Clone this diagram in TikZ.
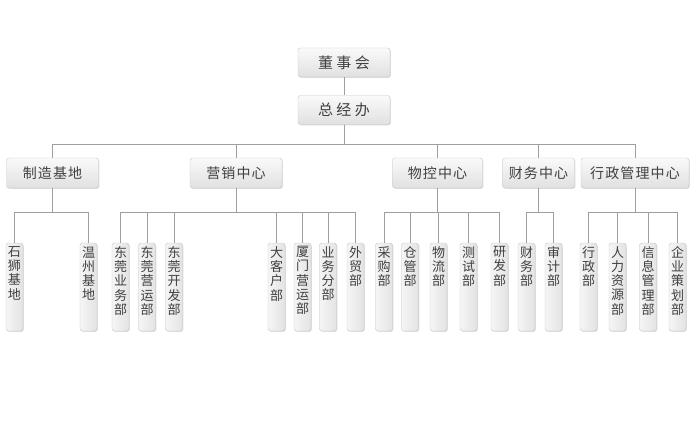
\documentclass[tikz,border=0pt]{standalone}
\usepackage{fontspec}
\newfontfamily\cjk{Noto Sans CJK SC}
\newfontfamily\cjkwide[LetterSpace=22]{Noto Sans CJK SC}
\newfontfamily\cjkmid[LetterSpace=8]{Noto Sans CJK SC}
\usetikzlibrary{shadows}
\newcommand{\vtxt}[1]{\parbox[c][85pt][t]{14pt}{\centering\fontsize{13}{14.2}\selectfont\vspace*{2pt}#1}}

\tikzset{
  box/.style={draw=gray!45, rounded corners=2.5pt, top color=gray!4, bottom color=gray!24,
              drop shadow={shadow xshift=0.8pt, shadow yshift=-0.8pt, fill=gray!45, opacity=0.6},
              text=black!75, inner sep=0pt},
  topbox/.style={box, minimum width=92, minimum height=29, font=\cjkwide\fontsize{15}{15}\selectfont},
  dept/.style={box, minimum height=30, font=\cjkmid\fontsize{14}{14}\selectfont},
  leaf/.style={box, left color=gray!8, right color=gray!22, minimum width=17, inner sep=1.5pt, font=\cjk},
  link/.style={draw=gray!75, line width=0.8pt}
}

\begin{document}
\begin{tikzpicture}[x=1pt,y=-1pt]
    \useasboundingbox (0,0) rectangle (699,425);

    \node[topbox] (dsh) at (344,62.5) {董事会};
    \node[topbox] (zjb) at (344,110) {总经办};
    \draw[link] (dsh) -- (zjb);

    % centres
    \node[dept, minimum width=92] (zz) at (52.5,173) {制造基地};
    \node[dept, minimum width=92] (yx) at (236,173) {营销中心};
    \node[dept, minimum width=90] (wk) at (437.5,173) {物控中心};
    \node[dept, minimum width=72] (cw) at (538.5,173) {财务中心};
    \node[dept, minimum width=108] (xz) at (635,173) {行政管理中心};

    \foreach \c in {zz,yx,wk,cw,xz}
        \draw[link] (zjb.south) -- ++(0,19.5) -| (\c.north);

    % departments
    \node[leaf] (shishi) at (14.5,287) {\vtxt{石\\狮\\基\\地}};
    \node[leaf] (wenzhou) at (88.5,287) {\vtxt{温\\州\\基\\地}};
    \node[leaf] (dgyw) at (120.5,287) {\vtxt{东\\莞\\业\\务\\部}};
    \node[leaf] (dgyy) at (147,287) {\vtxt{东\\莞\\营\\运\\部}};
    \node[leaf] (dgkf) at (174,287) {\vtxt{东\\莞\\开\\发\\部}};
    \node[leaf] (dkh) at (276.5,287) {\vtxt{大\\客\\户\\部}};
    \node[leaf] (xmyy) at (302.5,287) {\vtxt{厦\\门\\营\\运\\部}};
    \node[leaf] (ywfb) at (328,287) {\vtxt{业\\务\\分\\部}};
    \node[leaf] (wm) at (355.5,287) {\vtxt{外\\贸\\部}};
    \node[leaf] (cg) at (384,287) {\vtxt{采\\购\\部}};
    \node[leaf] (cgb) at (410,287) {\vtxt{仓\\管\\部}};
    \node[leaf] (wl) at (438.5,287) {\vtxt{物\\流\\部}};
    \node[leaf] (cs) at (468.5,287) {\vtxt{测\\试\\部}};
    \node[leaf] (yf) at (499.5,287) {\vtxt{研\\发\\部}};
    \node[leaf] (cwb) at (526.5,287) {\vtxt{财\\务\\部}};
    \node[leaf] (sj) at (553.5,287) {\vtxt{审\\计\\部}};
    \node[leaf] (xzb) at (588.5,287) {\vtxt{行\\政\\部}};
    \node[leaf] (rl) at (617.5,287) {\vtxt{人\\力\\资\\源\\部}};
    \node[leaf] (xx) at (648,287) {\vtxt{信\\息\\管\\理\\部}};
    \node[leaf] (qy) at (677.5,287) {\vtxt{企\\业\\策\\划\\部}};

    \foreach \p/\k in {zz/shishi,zz/wenzhou,
                       yx/dgyw,yx/dgyy,yx/dgkf,yx/dkh,yx/xmyy,yx/ywfb,yx/wm,
                       wk/cg,wk/cgb,wk/wl,wk/cs,wk/yf,
                       cw/cwb,cw/sj,
                       xz/xzb,xz/rl,xz/xx,xz/qy}
        \draw[link] (\p.south) -- ++(0,24) -| (\k.north);
\end{tikzpicture}
\end{document}
